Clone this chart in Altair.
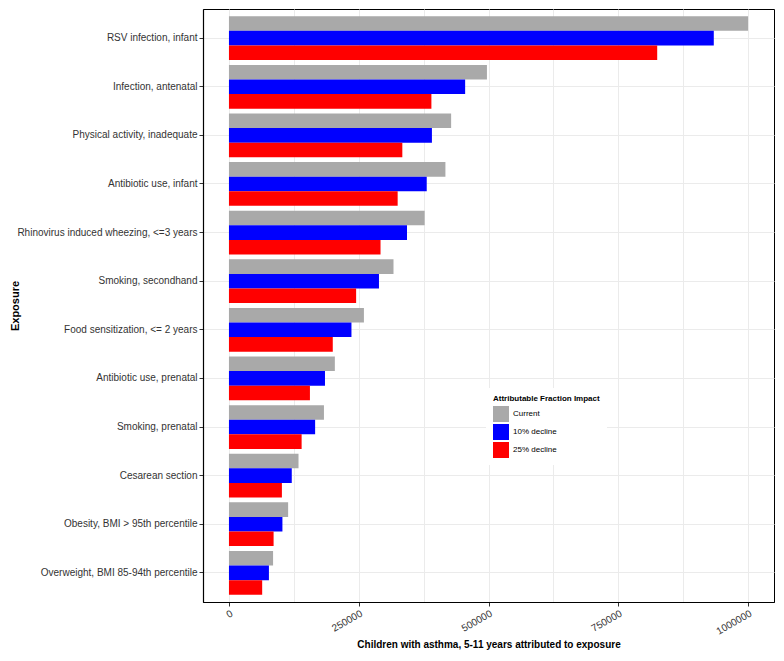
import altair as alt
import pandas as pd

categories = [
    "RSV infection, infant",
    "Infection, antenatal",
    "Physical activity, inadequate",
    "Antibiotic use, infant",
    "Rhinovirus induced wheezing, <=3 years",
    "Smoking, secondhand",
    "Food sensitization, <= 2 years",
    "Antibiotic use, prenatal",
    "Smoking, prenatal",
    "Cesarean section",
    "Obesity, BMI > 95th percentile",
    "Overweight, BMI 85-94th percentile",
]
current = [1000000, 497000, 428000, 417000, 377000, 317000, 260000, 204000, 183000, 134000, 114000, 85000]
decline10 = [934000, 455000, 391000, 381000, 343000, 289000, 236000, 185000, 166000, 121000, 103000, 77000]
decline25 = [825000, 390000, 334000, 325000, 292000, 245000, 200000, 156000, 140000, 102000, 86000, 64000]

groups = ["Current", "10% decline", "25% decline"]
group_colors = ["#A9A9A9", "#0000FF", "#FF0000"]

grid_values = [0, 125000, 250000, 375000, 500000, 625000, 750000, 875000, 1000000]

rows = []
for g, vals in zip(groups, [current, decline10, decline25]):
    for c, v in zip(categories, vals):
        rows.append({"Exposure": c, "Impact": g, "Value": v})
df = pd.DataFrame(rows)

is_major = "datum.value % 250000 === 0"

chart = alt.Chart(df).mark_bar().encode(
    x=alt.X(
        "Value:Q",
        scale=alt.Scale(domain=[-50000, 1050000], nice=False, zero=False),
        axis=alt.Axis(
            title="Children with asthma, 5-11 years attributed to exposure",
            values=grid_values,
            format="d",
            labelExpr=f"{is_major} ? datum.label : ''",
            labelAngle=330,
            labelAlign="right",
            labelBaseline="top",
            labelFontSize=10,
            labelColor="#333333",
            labelPadding=2,
            labelOverlap=False,
            tickSize=4,
            tickColor="#333333",
            tickOpacity={"condition": {"test": is_major, "value": 1}, "value": 0},
            grid=True,
            gridColor="#ebebeb",
            gridWidth=1,
            domainColor="black",
            domainWidth=1.2,
            titleFontSize=10,
            titleFontWeight="bold",
            titleColor="black",
            titleBaseline="top",
            titleY=37,
        ),
    ),
    y=alt.Y(
        "Exposure:N",
        sort=categories,
        scale=alt.Scale(paddingInner=0.1, paddingOuter=0.15),
        axis=alt.Axis(
            title="Exposure",
            labelFontSize=10,
            labelColor="#333333",
            labelLimit=300,
            labelPadding=2,
            tickSize=4,
            tickColor="#333333",
            grid=True,
            gridColor="#ebebeb",
            bandPosition=0.5,
            domainColor="black",
            domainWidth=1.2,
            titleFontSize=11,
            titleFontWeight="bold",
            titleColor="black",
            titleBaseline="top",
            titleX=-194,
        ),
    ),
    yOffset=alt.YOffset(
        "Impact:N",
        sort=groups,
        scale=alt.Scale(paddingInner=0, paddingOuter=0),
    ),
    color=alt.Color(
        "Impact:N",
        sort=groups,
        scale=alt.Scale(domain=groups, range=group_colors),
        legend=alt.Legend(
            title="Attributable Fraction Impact",
            orient="none",
            legendX=283,
            legendY=379,
            padding=7,
            fillColor="white",
            symbolType="square",
            symbolSize=256,
            symbolStrokeWidth=0,
            symbolOpacity=1,
            labelFontSize=8,
            labelColor="black",
            labelOffset=4,
            rowPadding=2,
            titleFontSize=8,
            titleFontWeight="bold",
            titleColor="black",
            titlePadding=3,
        ),
    ),
).properties(
    width=571,
    height=593,
    autosize=alt.AutoSizeParams(type="none"),
    padding={"left": 195, "top": 1, "right": 1, "bottom": 49},
).configure(
    font="Liberation Sans"
).configure_view(
    stroke="black", strokeWidth=1
)

chart.save("out.html", embed_options={"renderer": "svg", "actions": False})
